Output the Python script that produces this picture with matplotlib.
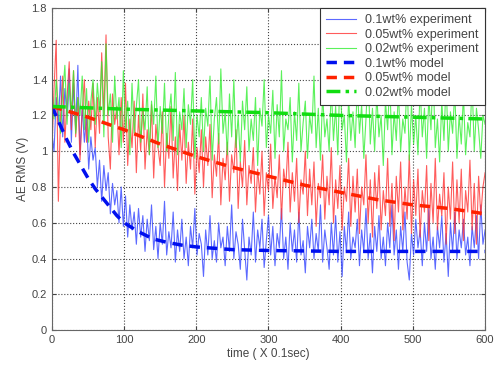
import numpy as np
import matplotlib
matplotlib.use('Agg')
import matplotlib.pyplot as plt
from matplotlib.ticker import FormatStrFormatter

plt.rcParams['font.family'] = ['Liberation Sans', 'DejaVu Sans']

# time axis of the experiment traces (x 0.1 sec), read every 3 units
t_exp = np.arange(0, 601, 3)

blue_exp = [1.10, 1.00, 1.30, 1.15, 1.42, 1.08, 1.35, 1.20, 1.46, 1.05,
            1.38, 1.12, 1.48, 0.98, 1.25, 1.05, 1.20, 0.90, 1.08, 0.95,
            1.02, 0.80, 0.95, 0.72, 0.92, 0.78, 0.88, 0.65, 0.82, 0.70,
            0.78, 0.60, 0.80, 0.58, 0.75, 0.52, 0.70, 0.56, 0.66, 0.48,
            0.68, 0.52, 0.64, 0.44, 0.62, 0.50, 0.70, 0.45, 0.58, 0.40,
            0.60, 0.48, 0.72, 0.42, 0.55, 0.46, 0.66, 0.38, 0.56, 0.44,
            0.62, 0.40, 0.52, 0.36, 0.58, 0.46, 0.68, 0.42, 0.54, 0.48,
            0.30, 0.56, 0.42, 0.64, 0.40, 0.50, 0.38, 0.60, 0.46, 0.52,
            0.36, 0.58, 0.44, 0.70, 0.40, 0.55, 0.48, 0.34, 0.62, 0.45,
            0.28, 0.52, 0.42, 0.66, 0.38, 0.56, 0.46, 0.62, 0.35, 0.50,
            0.64, 0.42, 0.58, 0.36, 0.54, 0.46, 0.68, 0.40, 0.52, 0.34,
            0.60, 0.44, 0.56, 0.38, 0.66, 0.42, 0.50, 0.32, 0.58, 0.46,
            0.62, 0.40, 0.54, 0.44, 0.70, 0.38, 0.56, 0.46, 0.34, 0.60,
            0.42, 0.64, 0.38, 0.55, 0.30, 0.58, 0.44, 0.66, 0.40, 0.52,
            0.46, 0.62, 0.36, 0.56, 0.44, 0.68, 0.40, 0.54, 0.32, 0.58,
            0.44, 0.64, 0.40, 0.52, 0.36, 0.60, 0.46, 0.70, 0.42, 0.56,
            0.34, 0.58, 0.44, 0.66, 0.38, 0.28, 0.54, 0.42, 0.62, 0.46,
            0.56, 0.36, 0.60, 0.44, 0.68, 0.40, 0.52, 0.34, 0.58, 0.46,
            0.64, 0.38, 0.54, 0.30, 0.60, 0.44, 0.66, 0.40, 0.56, 0.46,
            0.62, 0.42, 0.52, 0.36, 0.58, 0.46, 0.64, 0.40, 0.70, 0.48,
            0.56]

red_exp = [1.00, 1.35, 1.62, 0.72, 1.20, 1.42, 1.05, 1.30, 1.50, 1.12,
           1.45, 1.08, 1.30, 0.95, 1.22, 1.40, 1.05, 1.28, 1.12, 1.38,
           1.02, 1.30, 1.10, 1.55, 1.20, 1.65, 1.08, 0.90, 1.32, 1.15,
           1.25, 0.98, 1.30, 1.05, 1.38, 0.92, 1.18, 1.02, 1.28, 0.88,
           1.20, 1.00, 1.32, 0.90, 1.12, 0.98, 1.26, 0.85, 1.15, 1.02,
           0.92, 1.22, 0.80, 1.10, 0.96, 1.25, 0.85, 1.08, 0.78, 1.15,
           0.95, 1.20, 0.82, 1.05, 0.90, 1.18, 0.76, 1.02, 0.88, 1.12,
           0.80, 1.08, 0.92, 1.15, 0.74, 0.98, 0.86, 1.10, 0.70, 0.96,
           0.84, 1.05, 0.72, 0.98, 0.88, 1.12, 0.68, 0.94, 0.80, 1.06,
           0.70, 0.92, 0.82, 1.02, 0.66, 0.90, 0.76, 1.00, 0.64, 0.88,
           0.78, 1.04, 0.68, 0.86, 0.74, 0.98, 0.62, 0.90, 0.80, 1.05,
           0.66, 0.88, 0.72, 0.96, 0.60, 0.84, 0.76, 1.00, 0.64, 0.90,
           0.70, 0.94, 0.58, 0.82, 0.74, 0.98, 0.62, 0.86, 0.70, 1.02,
           0.60, 0.84, 0.68, 0.92, 0.56, 0.80, 0.72, 0.96, 0.58, 0.86,
           0.66, 0.90, 0.54, 0.80, 0.70, 0.98, 0.60, 0.84, 0.52, 0.88,
           0.68, 0.92, 0.56, 0.78, 0.64, 0.96, 0.58, 0.82, 0.50, 0.86,
           0.66, 0.94, 0.56, 0.80, 0.62, 0.98, 0.54, 0.84, 0.64, 0.90,
           0.52, 0.78, 0.66, 0.92, 0.50, 0.82, 0.60, 0.96, 0.56, 0.76,
           0.64, 0.88, 0.48, 0.80, 0.62, 0.94, 0.54, 0.84, 0.60, 0.90,
           0.50, 0.78, 0.66, 0.95, 0.56, 0.82, 0.48, 0.86, 0.64, 0.80,
           0.88]

green_exp = [1.35, 1.18, 1.40, 1.25, 1.10, 1.32, 1.48, 1.15, 1.38, 1.22,
             1.45, 1.10, 1.30, 1.20, 1.42, 1.12, 1.35, 1.05, 1.28, 1.40,
             1.15, 1.38, 1.22, 1.50, 1.08, 1.60, 1.20, 1.32, 1.05, 1.42,
             1.18, 1.30, 1.02, 1.45, 1.12, 1.28, 0.98, 1.38, 1.10, 1.25,
             1.40, 1.05, 1.22, 1.12, 1.36, 0.98, 1.28, 1.15, 1.42, 1.02,
             1.25, 1.10, 1.38, 1.00, 1.20, 1.32, 1.06, 1.44, 0.98, 1.22,
             1.12, 1.35, 1.02, 1.26, 1.15, 1.40, 0.96, 1.20, 1.08, 1.30,
             1.00, 1.24, 1.14, 1.42, 0.95, 1.18, 1.30, 1.04, 1.46, 1.10,
             1.22, 0.98, 1.32, 1.08, 1.40, 1.02, 1.20, 0.94, 1.28, 1.12,
             1.36, 1.00, 1.18, 1.06, 1.30, 0.92, 1.24, 1.14, 1.40, 1.02,
             1.20, 1.10, 1.34, 0.96, 1.26, 1.08, 1.45, 1.00, 1.18, 1.12,
             1.30, 0.94, 1.22, 1.06, 1.38, 1.00, 1.16, 1.28, 0.96, 1.20,
             1.10, 1.42, 1.02, 1.24, 0.95, 1.32, 1.08, 1.18, 1.00, 1.36,
             1.06, 1.25, 0.98, 1.44, 1.12, 1.20, 0.94, 1.30, 1.06, 1.22,
             1.02, 1.38, 1.10, 1.26, 0.96, 1.18, 1.46, 1.04, 1.24, 1.00,
             1.32, 1.08, 1.20, 0.92, 1.28, 1.12, 1.40, 0.98, 1.22, 1.06,
             1.34, 1.00, 1.18, 1.10, 1.42, 0.95, 1.26, 1.04, 1.20, 0.98,
             1.36, 1.08, 1.24, 0.96, 1.30, 1.12, 1.45, 1.02, 1.18, 0.94,
             1.28, 1.06, 1.40, 1.00, 1.22, 1.10, 1.34, 0.96, 1.20, 1.04,
             1.32, 0.98, 1.16, 1.08, 1.38, 1.00, 1.24, 1.12, 0.96, 1.20,
             1.15]

# model curves
t_blue_mod = [0, 10, 20, 30, 40, 50, 60, 70, 80, 90, 100, 120, 140, 160,
              180, 200, 250, 300, 400, 500, 600]
blue_mod = [1.25, 1.16, 1.07, 0.99, 0.92, 0.85, 0.79, 0.74, 0.69, 0.64, 0.60,
            0.55, 0.51, 0.49, 0.475, 0.465, 0.45, 0.445, 0.44, 0.44, 0.44]

t_red_mod = [0, 50, 100, 150, 200, 250, 300, 350, 400, 450, 500, 550, 600]
red_mod = [1.25, 1.19, 1.12, 1.04, 0.97, 0.91, 0.86, 0.81, 0.77, 0.73, 0.70,
           0.68, 0.65]

t_green_mod = [0, 100, 200, 300, 400, 500, 600]
green_mod = [1.25, 1.235, 1.225, 1.215, 1.20, 1.19, 1.18]

fig = plt.figure(figsize=(4.94, 3.66), dpi=100)
ax = fig.add_axes([0.105, 0.098, 0.877, 0.88])

ax.plot(t_exp, blue_exp, color='#3344ff', lw=0.8, alpha=0.8, label='0.1wt% experiment')
ax.plot(t_exp, red_exp, color='#ff3333', lw=0.8, alpha=0.8, label='0.05wt% experiment')
ax.plot(t_exp, green_exp, color='#33ee33', lw=0.8, alpha=0.8, label='0.02wt% experiment')
ax.plot(t_blue_mod, blue_mod, color='#0010ee', lw=2.5, ls=(0, (3, 2)), label='0.1wt% model')
ax.plot(t_red_mod, red_mod, color='#ff2200', lw=2.5, ls=(0, (3, 2)), label='0.05wt% model')
ax.plot(t_green_mod, green_mod, color='#11dd11', lw=2.5, ls=(0, (4, 1.5, 1, 1.5)), label='0.02wt% model')

ax.set_xlim(0, 600)
ax.set_ylim(0, 1.8)
ax.set_xticks(np.arange(0, 601, 100))
ax.set_yticks(np.arange(0, 1.81, 0.2))
ax.yaxis.set_major_formatter(FormatStrFormatter('%g'))
ax.grid(True, color='#444444', ls=':', lw=0.8)
ax.tick_params(direction='in', top=True, right=True, labelsize=8, colors='#444444', length=3)
for s in ax.spines.values():
    s.set_color('#666666')

ax.set_xlabel('time ( X 0.1sec)', fontsize=8.5, color='#444444', labelpad=2)
ax.set_ylabel('AE RMS (V)', fontsize=8.5, color='#444444', labelpad=2)

leg = ax.legend(loc='upper right', fontsize=9, frameon=True, fancybox=False,
                edgecolor='#333333', framealpha=1, borderaxespad=0, handlelength=2.4,
                handletextpad=0.7, labelspacing=0.2, borderpad=0.5)
leg.get_frame().set_linewidth(0.8)
for txt in leg.get_texts():
    txt.set_color('#444444')

fig.savefig('out.png', dpi=100)
